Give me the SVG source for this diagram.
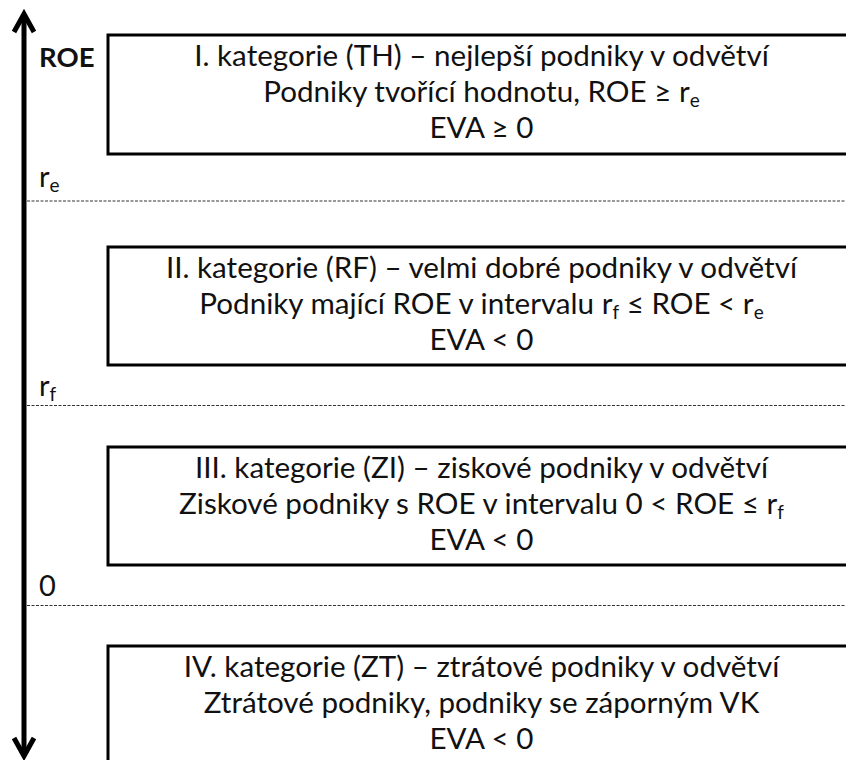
<svg xmlns="http://www.w3.org/2000/svg" width="846" height="760" viewBox="0 0 846 760">
<defs>
<style>
.t{font-family:Lato,"Liberation Sans",sans-serif;font-size:29.6px;fill:#111;text-anchor:middle}
.l{font-family:Lato,"Liberation Sans",sans-serif;font-size:29px;fill:#111}
.b{font-weight:bold;font-size:27.5px}
.s{font-size:19px}
.box{fill:#fff;stroke:#000;stroke-width:3}
.dash{stroke:#333;stroke-width:1;stroke-dasharray:3 1.5;fill:none}
.ax{stroke:#000;stroke-width:5;fill:none;stroke-linecap:butt}
</style>
<filter id="sh" x="-50%" y="-5%" width="200%" height="110%"><feGaussianBlur stdDeviation="1.5"/></filter>
</defs>
<g id="axis">
<line x1="27" y1="16" x2="27" y2="754" stroke="#000" stroke-opacity="0.3" stroke-width="4" filter="url(#sh)"/>
<line class="ax" x1="24" y1="15" x2="24" y2="755"/>
<polyline class="ax" points="14,32 24,14 34,32" stroke-linejoin="miter"/>
<polyline class="ax" points="14,738 24,756 34,738" stroke-linejoin="miter"/>
</g>
<g id="connectors">
<line class="dash" x1="27" y1="201" x2="846" y2="201"/>
<line class="dash" x1="27" y1="405.5" x2="846" y2="405.5"/>
<line class="dash" x1="27" y1="605.5" x2="846" y2="605.5"/>
</g>
<g id="labels">
<text class="l b" x="39" y="67">ROE</text>
<text class="l" x="39" y="187">r<tspan class="s" dy="5">e</tspan></text>
<text class="l" x="39" y="396">r<tspan class="s" dy="5">f</tspan></text>
<text class="l" x="39" y="596">0</text>
</g>
<g id="cat1">
<rect class="box" x="108" y="35" width="750" height="119"/>
<text class="t" x="481.5" y="66">I. kategorie (TH) – nejlepší podniky v odvětví</text>
<text class="t" x="481.5" y="102">Podniky tvořící hodnotu, ROE ≥ r<tspan class="s" dy="5">e</tspan></text>
<text class="t" x="481.5" y="138">EVA ≥ 0</text>
</g>
<g id="cat2">
<rect class="box" x="108" y="247" width="750" height="118"/>
<text class="t" x="481.5" y="278">II. kategorie (RF) – velmi dobré podniky v odvětví</text>
<text class="t" x="481.5" y="314">Podniky mající ROE v intervalu r<tspan class="s" dy="5">f</tspan><tspan dy="-5"> ≤ ROE &lt; r</tspan><tspan class="s" dy="5">e</tspan></text>
<text class="t" x="481.5" y="350">EVA &lt; 0</text>
</g>
<g id="cat3">
<rect class="box" x="108" y="447" width="750" height="118"/>
<text class="t" x="481.5" y="478">III. kategorie (ZI) – ziskové podniky v odvětví</text>
<text class="t" x="481.5" y="514">Ziskové podniky s ROE v intervalu 0 &lt; ROE ≤ r<tspan class="s" dy="5">f</tspan></text>
<text class="t" x="481.5" y="550">EVA &lt; 0</text>
</g>
<g id="cat4">
<rect class="box" x="108" y="646" width="750" height="130"/>
<text class="t" x="481.5" y="677">IV. kategorie (ZT) – ztrátové podniky v odvětví</text>
<text class="t" x="481.5" y="713">Ztrátové podniky, podniky se záporným VK</text>
<text class="t" x="481.5" y="749">EVA &lt; 0</text>
</g>
</svg>
